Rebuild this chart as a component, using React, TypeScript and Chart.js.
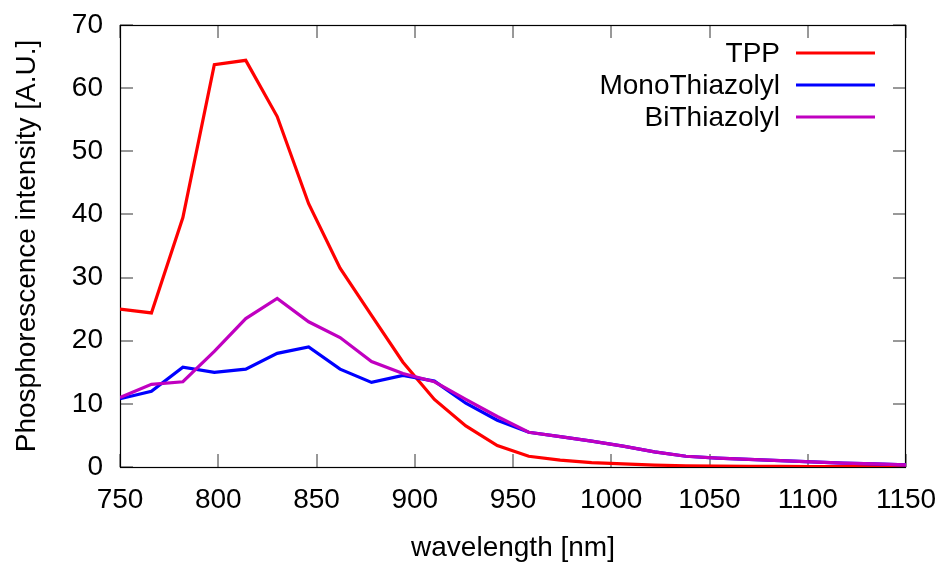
import React, { useEffect, useRef } from "react";
import { Chart, registerables } from "chart.js";

Chart.register(...registerables);

const wavelength = [750, 766, 782, 798, 814, 830, 846, 862, 878, 894, 910, 926, 942, 958, 974, 990, 1006, 1022, 1038, 1054, 1070, 1086, 1102, 1118, 1134, 1150];
const tpp = [25.0, 24.4, 39.5, 63.7, 64.4, 55.5, 41.7, 31.5, 24.0, 16.6, 10.7, 6.5, 3.4, 1.7, 1.1, 0.7, 0.5, 0.3, 0.2, 0.15, 0.12, 0.1, 0.08, 0.06, 0.05, 0.05];
const mono = [10.8, 12.0, 15.8, 15.0, 15.5, 18.0, 19.0, 15.5, 13.4, 14.5, 13.6, 10.1, 7.4, 5.5, 4.8, 4.1, 3.3, 2.4, 1.7, 1.4, 1.2, 1.0, 0.8, 0.6, 0.5, 0.35];
const bi = [11.0, 13.1, 13.5, 18.3, 23.5, 26.7, 23.0, 20.5, 16.7, 14.8, 13.5, 10.7, 8.0, 5.5, 4.8, 4.1, 3.3, 2.4, 1.7, 1.4, 1.2, 1.0, 0.8, 0.6, 0.5, 0.35];

const seriesNames = ["TPP", "MonoThiazolyl", "BiThiazolyl"];
const seriesColors = ["#ff0000", "#0000ff", "#c000c0"];
const xTicks = [750, 800, 850, 900, 950, 1000, 1050, 1100, 1150];
const yTicks = [0, 10, 20, 30, 40, 50, 60, 70];

const FONT = "'Liberation Sans', Arial, Helvetica, sans-serif";
const FS = 28;

const framePlugin = {
  id: "gnuFrame",
  beforeDatasetsDraw(chart: any) {
    const { ctx, chartArea } = chart;
    const { left, right, top, bottom } = chartArea;
    const xs = chart.scales.x;
    const ys = chart.scales.y;
    ctx.save();
    ctx.strokeStyle = "#333";
    ctx.lineWidth = 1;
    const TL = 13;
    ctx.beginPath();
    for (const v of xTicks) {
      const px = Math.round(xs.getPixelForValue(v));
      ctx.moveTo(px, bottom);
      ctx.lineTo(px, bottom - TL);
      ctx.moveTo(px, top);
      ctx.lineTo(px, top + TL);
    }
    for (const v of yTicks) {
      const py = Math.round(ys.getPixelForValue(v));
      ctx.moveTo(left, py);
      ctx.lineTo(left + TL, py);
      ctx.moveTo(right, py);
      ctx.lineTo(right - TL, py);
    }
    ctx.stroke();
    ctx.strokeStyle = "#000";
    ctx.lineWidth = 1.2;
    ctx.strokeRect(Math.round(left) + 0.5, Math.round(top) + 0.5, Math.round(right - left) - 1, Math.round(bottom - top));
    ctx.restore();
  },
  afterDraw(chart: any) {
    const { ctx } = chart;
    ctx.save();
    ctx.font = `${FS}px ${FONT}`;
    ctx.textAlign = "right";
    ctx.textBaseline = "middle";
    const rows = [53, 85, 117];
    seriesNames.forEach((name, i) => {
      ctx.fillStyle = "#000";
      ctx.fillText(name, 780, rows[i] + 1);
      ctx.strokeStyle = seriesColors[i];
      ctx.lineWidth = 3.2;
      ctx.beginPath();
      ctx.moveTo(796, rows[i]);
      ctx.lineTo(875, rows[i]);
      ctx.stroke();
    });
    ctx.restore();
  },
};

export default function App() {
  const ref = useRef<HTMLCanvasElement | null>(null);
  useEffect(() => {
    if (!ref.current) return;
    const mk = (arr: number[]) => wavelength.map((x, i) => ({ x, y: arr[i] }));
    const dataArrs = [tpp, mono, bi];
    const chart = new Chart(ref.current, {
      type: "line",
      data: {
        datasets: seriesNames.map((name, i) => ({
          label: name,
          data: mk(dataArrs[i]),
          borderColor: seriesColors[i],
          backgroundColor: seriesColors[i],
          borderWidth: 3.2,
          pointRadius: 0,
          tension: 0,
          fill: false,
          order: 2 - i,
        })),
      },
      options: {
        responsive: false,
        animation: false,
        layout: { padding: { left: 0, right: 40, top: 25, bottom: 0 } },
        plugins: { legend: { display: false }, tooltip: { enabled: false } },
        scales: {
          x: {
            type: "linear",
            min: 750,
            max: 1150,
            afterBuildTicks: (s: any) => {
              s.ticks = xTicks.map((v) => ({ value: v }));
            },
            afterFit: (s: any) => {
              s.height = 96;
              s.paddingLeft = 0;
              s.paddingRight = 0;
              s.paddingTop = 0;
              s.paddingBottom = 0;
            },
            ticks: { font: { size: FS, family: FONT }, color: "#000", padding: 16, maxRotation: 0, autoSkip: false, callback: (v: any) => String(v) },
            grid: { display: false, drawTicks: false },
            border: { display: false },
            title: { display: true, text: "wavelength [nm]", font: { size: FS, family: FONT, lineHeight: 1 }, color: "#000", padding: { top: 0, bottom: 1 } },
          },
          y: {
            type: "linear",
            min: 0,
            max: 70,
            afterBuildTicks: (s: any) => {
              s.ticks = yTicks.map((v) => ({ value: v }));
            },
            afterFit: (s: any) => {
              s.width = 120;
              s.paddingLeft = 0;
              s.paddingRight = 0;
              s.paddingTop = 0;
              s.paddingBottom = 0;
            },
            ticks: { font: { size: FS, family: FONT }, color: "#000", padding: 17, autoSkip: false, callback: (v: any) => String(v) },
            grid: { display: false, drawTicks: false },
            border: { display: false },
            title: { display: true, text: "Phosphorescence intensity [A.U.]", font: { size: FS, family: FONT }, color: "#000", padding: { top: 10, bottom: 0 } },
          },
        },
      },
      plugins: [framePlugin],
    } as any);
    return () => chart.destroy();
  }, []);
  return (
    <div style={{ position: "fixed", left: 0, top: 0, width: 946, height: 563, background: "#fff" }}>
      <canvas ref={ref} width={946} height={563} style={{ display: "block" }} />
    </div>
  );
}
